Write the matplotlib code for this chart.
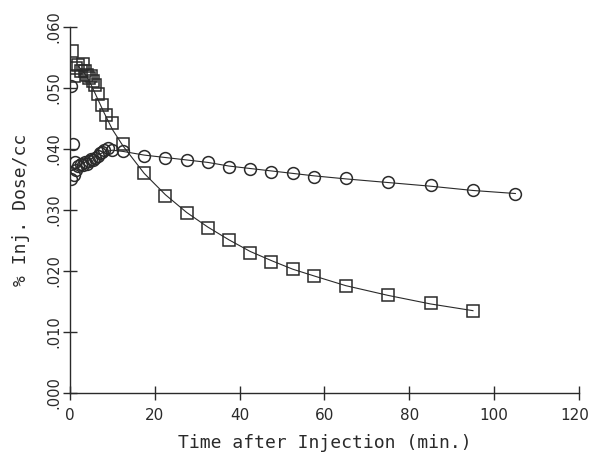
import numpy as np
import matplotlib
matplotlib.use("Agg")
import matplotlib.pyplot as plt
import matplotlib.transforms as mtrans
from matplotlib import font_manager

plt.rcParams['font.family'] = ['DejaVu Sans Mono']

names = set(f.name for f in font_manager.fontManager.ttflist)
tick_font = 'Liberation Sans Narrow' if 'Liberation Sans Narrow' in names else 'DejaVu Sans'

# squares
sq_t = [0.5, 1, 1.5, 2, 2.5, 3, 3.5, 4, 4.5, 5, 5.5, 6, 6.5, 7.5, 8.5, 9.8,
        12.5, 17.5, 22.5, 27.5, 32.5, 37.5, 42.5, 47.5, 52.5, 57.5, 65, 75, 85, 95]
sq_v = [0.0560, 0.0520, 0.0533, 0.0538, 0.0527, 0.0540, 0.0527, 0.0521, 0.0517, 0.0519,
        0.0512, 0.0505, 0.0490, 0.0472, 0.0456, 0.0442,
        0.0408, 0.0360, 0.0323, 0.0295, 0.0270, 0.0250, 0.0229, 0.0215, 0.0203, 0.0192,
        0.0175, 0.0160, 0.0147, 0.0134]

# circles
ci_t = [0.3, 0.25, 0.75, 1.0, 1.25, 1.5, 2, 2.5, 3, 3.5, 4, 4.5, 5, 5.5, 6, 6.5, 7,
        7.5, 8, 9, 10, 12.5, 17.5, 22.5, 27.5, 32.5, 37.5, 42.5, 47.5, 52.5, 57.5,
        65, 75, 85, 95, 105]
ci_v = [0.0503, 0.0350, 0.0408, 0.0357, 0.0378, 0.0366, 0.0372, 0.0375, 0.0373, 0.0378,
        0.0376, 0.0380, 0.0383, 0.0382, 0.0386, 0.0389, 0.0393, 0.0395, 0.0398, 0.0401,
        0.0398, 0.0396, 0.0389, 0.0386, 0.0382, 0.0378, 0.0371, 0.0367, 0.0363, 0.0361,
        0.0354, 0.0352, 0.0346, 0.0341, 0.0332, 0.0327]

# fitted curves
fit_sq_t = [2, 3, 4, 5, 6, 7, 8, 9, 10, 12.5, 17.5, 22.5, 27.5, 32.5, 37.5, 42.5,
            47.5, 52.5, 57.5, 65, 75, 85, 95]
fit_sq_v = [0.0535, 0.0528, 0.0518, 0.0505, 0.0490, 0.0475, 0.0460, 0.0446, 0.0432,
            0.0405, 0.0360, 0.0325, 0.0296, 0.0272, 0.0251, 0.0232, 0.0217, 0.0203,
            0.0192, 0.0176, 0.0160, 0.0146, 0.0135]
fit_ci_t = [0.5, 2, 4, 6, 8, 10, 12.5, 17.5, 22.5, 27.5, 32.5, 37.5, 42.5, 47.5,
            52.5, 57.5, 65, 75, 85, 95, 105]
fit_ci_v = [0.0365, 0.0372, 0.0380, 0.0388, 0.0395, 0.0398, 0.0396, 0.0390, 0.0386,
            0.0382, 0.0378, 0.0372, 0.0368, 0.0364, 0.0360, 0.0356, 0.0351, 0.0345,
            0.0339, 0.0332, 0.0327]

xticks = [0, 20, 40, 60, 80, 100, 120]
yticks = [0.0, 0.01, 0.02, 0.03, 0.04, 0.05, 0.06]

fig = plt.figure(figsize=(5.91, 4.57), dpi=100)
ax = fig.add_axes([0.1184, 0.140, 0.8613, 0.801])

col = '#2a2a2a'
ax.plot(fit_sq_t, fit_sq_v, color=col, lw=0.8)
ax.plot(fit_ci_t, fit_ci_v, color=col, lw=0.8)
ax.plot(sq_t, sq_v, ls='none', marker='s', ms=8.5, mfc='none', mec=col, mew=1.1)
ax.plot(ci_t, ci_v, ls='none', marker='o', ms=8.5, mfc='none', mec=col, mew=1.1)

ax.set_xlim(0, 120)
ax.set_ylim(0, 0.060)
for s in ['top', 'right']:
    ax.spines[s].set_visible(False)
for s in ['left', 'bottom']:
    ax.spines[s].set_color(col)
    ax.spines[s].set_linewidth(1.0)
ax.set_xticks(xticks)
ax.set_yticks(yticks)
ax.set_xticklabels([str(v) for v in xticks], family=tick_font, fontsize=11)
ax.set_yticklabels([('%.3f' % v)[1:] for v in yticks], rotation=90, va='center',
                   family=tick_font, fontsize=10.5)
ax.tick_params(direction='inout', length=10, width=1.0, color=col,
               labelcolor=col, pad=1)
ax.tick_params(axis='x', pad=6)

# nudge last x label so it stays inside the figure
last = ax.get_xticklabels()[-1]
last.set_transform(last.get_transform() + mtrans.ScaledTranslation(-4 / 100, 0, fig.dpi_scale_trans))

ax.set_xlabel('Time after Injection (min.)', fontsize=13, color=col, labelpad=8)
ax.set_ylabel('% Inj. Dose/cc', fontsize=13, color=col, labelpad=12)

fig.savefig('out.png', dpi=100)
